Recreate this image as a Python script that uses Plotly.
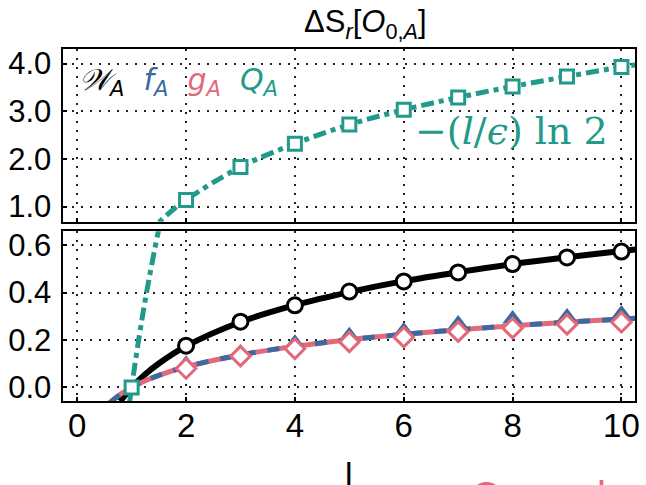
import plotly.graph_objects as go

# ---------------- data ----------------
x_pts = [1, 2, 3, 4, 5, 6, 7, 8, 9, 10]
W_pts = [0.0, 0.176, 0.277, 0.346, 0.404, 0.447, 0.485, 0.520, 0.548, 0.573]
f_pts = [0.0, 0.098, 0.145, 0.186, 0.218, 0.238, 0.267, 0.288, 0.297, 0.310]
g_pts = [0.0, 0.080, 0.132, 0.163, 0.192, 0.212, 0.235, 0.250, 0.266, 0.275]
Q_pts = [0.0, 1.14, 1.83, 2.32, 2.72, 3.03, 3.29, 3.52, 3.73, 3.93]

W_cx = [0.79, 1.0, 1.25, 1.5, 2, 3, 4, 5, 6, 7, 8, 9, 10, 10.3]
W_cy = [-0.059, 0.0, 0.056, 0.101, 0.174, 0.276, 0.347, 0.402, 0.448, 0.486, 0.520, 0.549, 0.575, 0.582]
fg_cx = [0.6, 0.8, 1.0, 1.25, 1.5, 2, 3, 4, 5, 6, 7, 8, 9, 10, 10.3]
fg_cy = [-0.064, -0.028, 0.0, 0.028, 0.051, 0.087, 0.137, 0.173, 0.201, 0.224, 0.243, 0.260, 0.275, 0.288, 0.292]
Q_cx = [0.96, 1.0, 1.1, 1.25, 1.5, 1.75, 2, 3, 4, 5, 6, 7, 8, 9, 10, 10.3]
Q_cy = [-0.067, 0.0, 0.157, 0.368, 0.669, 0.923, 1.14, 1.83, 2.32, 2.72, 3.03, 3.29, 3.52, 3.73, 3.93, 3.98]

x_ticks = [0, 2, 4, 6, 8, 10]
top_ticks = [1.0, 2.0, 3.0, 4.0]
bot_ticks = [0.0, 0.2, 0.4, 0.6]

# ---------------- style ----------------
BLACK = "#000000"
BLUE = "#3b6aa0"
PINK = "#e3687a"
TEAL = "#229a8b"

fig = go.Figure()

for xa, ya in (("x", "y"), ("x2", "y2")):
    bottom = (xa == "x2")
    fig.add_trace(go.Scatter(x=W_cx, y=W_cy, mode="lines", line=dict(color=BLACK, width=6, shape="spline"),
                             xaxis=xa, yaxis=ya, showlegend=False, hoverinfo="skip"))
    if bottom:
        fig.add_trace(go.Scatter(x=x_pts[1:], y=W_pts[1:], mode="markers",
                                 marker=dict(symbol="circle", size=15, color="white", line=dict(color=BLACK, width=3)),
                                 xaxis=xa, yaxis=ya, showlegend=False))
    fig.add_trace(go.Scatter(x=fg_cx, y=fg_cy, mode="lines", line=dict(color=PINK, width=5, shape="spline"),
                             xaxis=xa, yaxis=ya, showlegend=False, hoverinfo="skip"))
    fig.add_trace(go.Scatter(x=fg_cx, y=fg_cy, mode="lines",
                             line=dict(color=BLUE, width=5, shape="spline", dash="12px,12px"),
                             xaxis=xa, yaxis=ya, showlegend=False, hoverinfo="skip"))
    if bottom:
        fig.add_trace(go.Scatter(x=x_pts[1:], y=f_pts[1:], mode="markers",
                                 marker=dict(symbol="triangle-up", size=18, color=BLUE, line=dict(width=0)),
                                 xaxis=xa, yaxis=ya, showlegend=False))
        fig.add_trace(go.Scatter(x=x_pts[1:], y=g_pts[1:], mode="markers",
                                 marker=dict(symbol="diamond", size=15, color="white", line=dict(color=PINK, width=3)),
                                 xaxis=xa, yaxis=ya, showlegend=False))
    fig.add_trace(go.Scatter(x=Q_cx, y=Q_cy, mode="lines",
                             line=dict(color=TEAL, width=5, shape="spline", dash="13px,5px,5px,5px"),
                             xaxis=xa, yaxis=ya, showlegend=False, hoverinfo="skip"))
    fig.add_trace(go.Scatter(x=x_pts if bottom else x_pts[1:], y=Q_pts if bottom else Q_pts[1:], mode="markers",
                             marker=dict(symbol="square", size=13, color="white", line=dict(color=TEAL, width=3)),
                             xaxis=xa, yaxis=ya, showlegend=False))

W, H = 646, 485
xdom = [63 / W, 640 / W]
top_dom = [1 - 222 / H, 1 - 47 / H]
bot_dom = [1 - 404 / H, 1 - 231.7 / H]

axis_common = dict(showline=True, linewidth=2, linecolor="black", mirror=True,
                   showgrid=True, gridcolor="#222222", gridwidth=1.5, griddash="2px,7px",
                   zeroline=False, ticks="inside", ticklen=4, tickwidth=1.5, tickcolor="black",
                   tickfont=dict(family="Liberation Sans", size=31, color="black"))

fig.update_layout(
    width=W, height=H, autosize=False,
    margin=dict(l=0, r=0, t=0, b=0),
    paper_bgcolor="white", plot_bgcolor="white",
    xaxis=dict(axis_common, domain=xdom, range=[-0.27, 10.25], tickvals=x_ticks,
               showticklabels=False, anchor="y"),
    yaxis=dict(axis_common, domain=top_dom, range=[0.68, 4.30], tickvals=top_ticks,
               tickformat=".1f", anchor="x", ticklabelstandoff=3),
    xaxis2=dict(axis_common, domain=xdom, range=[-0.27, 10.25], tickvals=x_ticks,
                anchor="y2", ticklabelstandoff=-6,
                tickfont=dict(family="Liberation Sans", size=33, color="black")),
    yaxis2=dict(axis_common, domain=bot_dom, range=[-0.058, 0.658], tickvals=bot_ticks,
                tickformat=".1f", anchor="x2", ticklabelstandoff=3),
)

ann = []
ann.append(dict(text="ΔS<sub><i>r</i></sub>[<i>O</i><sub>0,<i>A</i></sub>]", x=368 / W, y=1 - 21 / H,
                xanchor="center", yanchor="middle",
                xref="paper", yref="paper", showarrow=False,
                font=dict(family="Liberation Sans", size=31, color="black")))
ann.append(dict(text=("<span style='color:#000000'><i>𝒲</i><sub><i>A</i></sub></span>  "
                      "<span style='color:%s'><i>f</i><sub><i>A</i></sub></span>  "
                      "<span style='color:%s'><i>g</i><sub><i>A</i></sub></span>  "
                      "<span style='color:%s'><i>Q</i><sub><i>A</i></sub></span>") % (BLUE, PINK, TEAL),
                x=78 / W, y=1 - 80 / H, xanchor="left", yanchor="middle",
                xref="paper", yref="paper", showarrow=False,
                font=dict(family="DejaVu Sans", size=30, color="black")))
ann.append(dict(text="−(<i>l</i>/<i>ϵ</i>) ln 2", x=515 / W, y=1 - 130 / H,
                xanchor="center", yanchor="middle",
                xref="paper", yref="paper", showarrow=False,
                font=dict(family="DejaVu Serif", size=38, color=TEAL)))
ann.append(dict(text="l", x=351.5 / W, y=1 - 478 / H, xanchor="center", yanchor="middle",
                xref="paper", yref="paper", showarrow=False,
                font=dict(family="Liberation Sans", size=34, color="black")))
ann.append(dict(text="O", x=490 / W, y=1 - 500 / H, xanchor="center", yanchor="middle",
                xref="paper", yref="paper", showarrow=False,
                font=dict(family="Liberation Sans", size=40, color=PINK)))
ann.append(dict(text="l", x=606 / W, y=1 - 500 / H, xanchor="center", yanchor="middle",
                xref="paper", yref="paper", showarrow=False,
                font=dict(family="Liberation Sans", size=40, color=PINK)))
fig.update_layout(annotations=ann)

fig.write_html("out.html")
